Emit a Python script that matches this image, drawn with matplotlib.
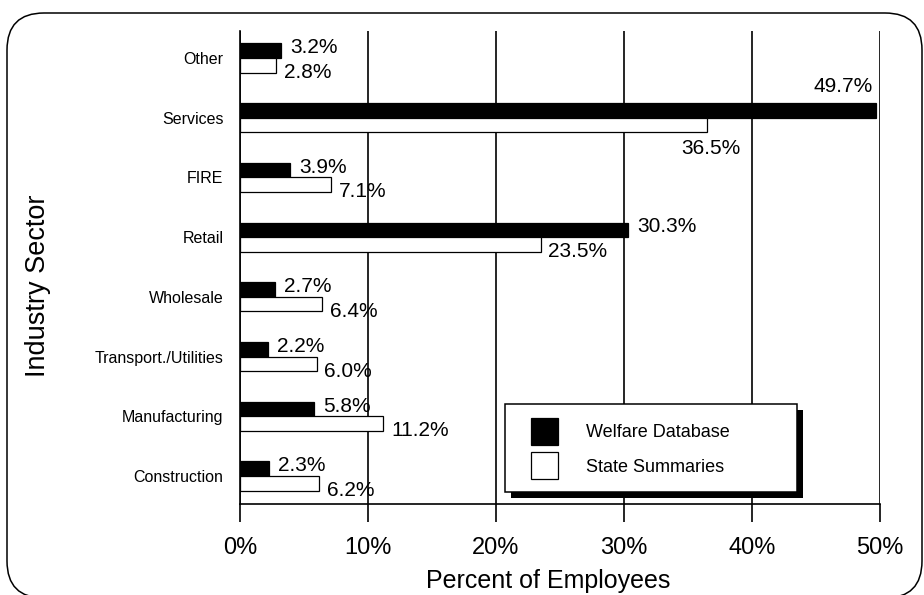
import numpy as np
import matplotlib
matplotlib.use('Agg')
import matplotlib.pyplot as plt
import matplotlib.patheffects as pe
from matplotlib.patches import FancyBboxPatch, Rectangle
from matplotlib.transforms import IdentityTransform

plt.rcParams['font.family'] = ['Liberation Sans', 'DejaVu Sans']

# data, bottom to top
sectors = ['Construction', 'Manufacturing', 'Transport./Utilities', 'Wholesale',
           'Retail', 'FIRE', 'Services', 'Other']
welfare = [2.3, 5.8, 2.2, 2.7, 30.3, 3.9, 49.7, 3.2]
state = [6.2, 11.2, 6.0, 6.4, 23.5, 7.1, 36.5, 2.8]
xticks = [0, 10, 20, 30, 40, 50]


def main():
    fig = plt.figure(figsize=(9.24, 5.95), dpi=100)
    ax = fig.add_axes([240 / 924, 1 - 504 / 595, 640 / 924, 473 / 595])

    y = np.arange(len(sectors))
    h = 0.243
    ax.barh(y + h / 2, welfare, h, color='black', edgecolor='black',
            linewidth=0.9, label='Welfare Database')
    ax.barh(y - h / 2, state, h, color='white', edgecolor='black',
            linewidth=0.9, label='State Summaries')

    # value labels
    for yi, name, w, s in zip(y, sectors, welfare, state):
        if name == 'Services':
            ax.text(w - 0.3, yi + h + 0.12, f'{w}%', ha='right', va='bottom', fontsize=15)
            ax.text(s - 2.0, yi - h - 0.12, f'{s}%', ha='left', va='top', fontsize=15)
        else:
            ax.text(w + 0.7, yi + h / 2 + 0.05, f'{w}%', ha='left', va='center', fontsize=15)
            ax.text(s + 0.6, yi - h, f'{s}%', ha='left', va='center', fontsize=15)

    ax.set_xlim(0, 50)
    ax.set_ylim(-0.469, 7.452)
    ax.set_xticks(xticks)
    ax.set_xticklabels([f'{t}%' for t in xticks], fontsize=17)
    ax.set_yticks(y)
    ax.set_yticklabels(sectors, fontsize=11.5)
    ax.tick_params(axis='y', length=0, pad=12)
    ax.tick_params(axis='x', length=13, width=1.2, pad=11, direction='out')
    ax.grid(axis='x', color='black', linewidth=1.2)
    ax.set_axisbelow(True)
    for side in ['top', 'right']:
        ax.spines[side].set_visible(False)
    for side in ['left', 'bottom']:
        ax.spines[side].set_linewidth(1.2)

    ax.set_xlabel('Percent of Employees', fontsize=18)
    ax.xaxis.set_label_coords((548 - 240) / 640, -0.137)
    fig.text(38 / 924, 1 - 286 / 595, 'Industry Sector', rotation=90,
             ha='center', va='center', fontsize=19.5)

    # legend box with hard black shadow
    frame = Rectangle((0.414, 0.025), 0.456, 0.186, transform=ax.transAxes,
                      facecolor='white', edgecolor='black', linewidth=1.1, zorder=5,
                      path_effects=[pe.withSimplePatchShadow(offset=(4.5, -4.5),
                                                             shadow_rgbFace='black', alpha=1.0)])
    ax.add_patch(frame)
    leg = ax.legend(loc='upper left', bbox_to_anchor=(0.4547, 0.1818), frameon=False,
                    fontsize=13, handlelength=1.5, handleheight=1.93, handletextpad=1.55,
                    labelspacing=0.4, borderpad=0, borderaxespad=0)
    leg.set_zorder(6)

    # rounded outer border
    border = FancyBboxPatch((7, -3), 915, 585, boxstyle='round,pad=0,rounding_size=37',
                            transform=IdentityTransform(), facecolor='none',
                            edgecolor='black', linewidth=1.1)
    fig.add_artist(border)

    fig.savefig('out.png', dpi=100)


if __name__ == '__main__':
    main()
